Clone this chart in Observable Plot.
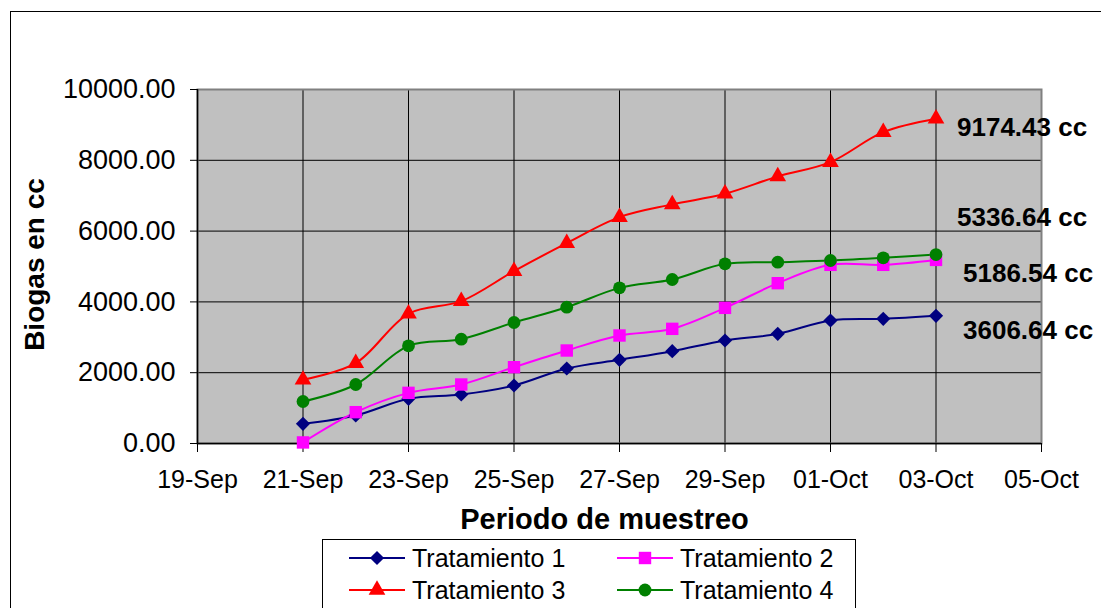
<!DOCTYPE html>
<html>
<head>
<meta charset="utf-8">
<script src="https://cdn.jsdelivr.net/npm/d3@7"></script>
<script src="https://cdn.jsdelivr.net/npm/@observablehq/plot@0.6"></script>
<style>
  body { margin: 0; background: #fff; font-family: "Liberation Sans", Arial, sans-serif; }
  #fig { position: relative; width: 1101px; height: 608px; overflow: hidden; background: #fff; }
  #border { position: absolute; left: 10px; top: 11px; width: 1200px; height: 700px; border: 1.5px solid #000; box-sizing: border-box; }
  #chart { position: absolute; left: 0; top: 0; }
  #legend { position: absolute; left: 322px; top: 539px; width: 534px; height: 120px; border: 1px solid #000; box-sizing: border-box; background: #fff; }
  .item { position: absolute; height: 26px; display: flex; align-items: center; font-size: 25px; color: #000; white-space: nowrap; }
  .item svg { margin-right: 7px; }
</style>
</head>
<body>
<div id="fig">
  <div id="border"></div>
  <div id="chart"></div>
  <div id="legend"></div>
</div>
<script>
// Sampling dates (daily) and cumulative biogas volume (cc) per treatment
const dates = ["2008-09-21", "2008-09-22", "2008-09-23", "2008-09-24", "2008-09-25", "2008-09-26", "2008-09-27",
               "2008-09-28", "2008-09-29", "2008-09-30", "2008-10-01", "2008-10-02", "2008-10-03"];
const tratamiento1 = [556, 791, 1262, 1384, 1638, 2119, 2363, 2608, 2910, 3098, 3475, 3521, 3606.64];
const tratamiento2 = [30, 885, 1431, 1667, 2156, 2627, 3051, 3239, 3832, 4529, 5047, 5047, 5186.54];
const tratamiento3 = [1800, 2270, 3665, 4020, 4870, 5660, 6395, 6755, 7055, 7545, 7950, 8795, 9174.43];
const tratamiento4 = [1186, 1667, 2759, 2947, 3418, 3851, 4397, 4633, 5076, 5122, 5169, 5245, 5336.64];
const seriesNames = ["Tratamiento 1", "Tratamiento 2", "Tratamiento 3", "Tratamiento 4"];

// Axis ticks
const xTickDates = ["2008-09-19", "2008-09-21", "2008-09-23", "2008-09-25", "2008-09-27",
                    "2008-09-29", "2008-10-01", "2008-10-03", "2008-10-05"];
const yTicks = [0, 2000, 4000, 6000, 8000, 10000];

const parse = d3.utcParse("%Y-%m-%d");
const fmtDate = d3.utcFormat("%d-%b");
const xTicks = xTickDates.map(parse);

const values = [tratamiento1, tratamiento2, tratamiento3, tratamiento4];
const styles = [
  {color: "#000080", symbol: "diamond2", r: 6.4},
  {color: "#ff00ff", symbol: "square", r: 7},
  {color: "#ff0000", symbol: "triangle", r: 6.2},
  {color: "#008000", symbol: "circle", r: 6.4}
];
// End-of-series label placement (pixels from the last point)
const labelShift = [{dx: 27, dy: 15}, {dx: 27, dy: 14}, {dx: 21, dy: 9}, {dx: 21, dy: -37}];

const series = seriesNames.map((name, i) =>
  dates.map((d, j) => ({serie: name, date: parse(d), value: values[i][j]})));

const font = "'Liberation Sans', Arial, sans-serif";

const marks = [
  Plot.frame({fill: "#c0c0c0"}),
  Plot.gridX(xTicks, {stroke: "#000", strokeOpacity: 1, strokeWidth: 1}),
  Plot.gridY(yTicks, {stroke: "#000", strokeOpacity: 1, strokeWidth: 1}),
  Plot.frame({stroke: "#808080", strokeWidth: 2}),
  Plot.ruleX([xTicks[0]], {stroke: "#000", strokeWidth: 1.5}),
  Plot.ruleY([0], {stroke: "#000", strokeWidth: 1.5}),
  Plot.axisX(xTicks, {tickFormat: fmtDate, tickSize: 9, tickPadding: 18, fontSize: 25, label: null, stroke: "#000"}),
  Plot.axisY(yTicks, {tickFormat: d => d.toFixed(2), tickSize: 7, tickPadding: 15, fontSize: 27, label: null, stroke: "#000"})
];

series.forEach((rows, i) => {
  const s = styles[i];
  marks.push(Plot.line(rows, {x: "date", y: "value", stroke: s.color, strokeWidth: 2, curve: "catmull-rom"}));
});
series.forEach((rows, i) => {
  const s = styles[i];
  marks.push(Plot.dot(rows, {x: "date", y: "value", symbol: () => s.symbol, r: s.r, fill: s.color, stroke: "none"}));
});
series.forEach((rows, i) => {
  const last = rows[rows.length - 1];
  marks.push(Plot.text([last], {
    x: "date", y: "value", text: d => `${d.value.toFixed(2)} cc`,
    textAnchor: "start", dx: labelShift[i].dx, dy: labelShift[i].dy,
    fontWeight: "bold", fontSize: 26, fill: "#000"
  }));
});

// Axis titles
marks.push(Plot.text(["Periodo de muestreo"], {
  frameAnchor: "bottom", textAnchor: "middle", lineAnchor: "middle",
  dx: -15, dy: 76, fontWeight: "bold", fontSize: 29, fill: "#000"
}));
marks.push(Plot.text(["Biogas en cc"], {
  frameAnchor: "left", textAnchor: "middle", lineAnchor: "middle", rotate: -90,
  dx: -162, dy: -2, fontWeight: "bold", fontSize: 28, fill: "#000"
}));

const chart = Plot.plot({
  width: 1101,
  height: 608,
  marginLeft: 197,
  marginRight: 60,
  marginTop: 89,
  marginBottom: 165,
  style: {fontFamily: font, background: "transparent", color: "#000", overflow: "visible"},
  x: {type: "utc", domain: [xTicks[0], xTicks[xTicks.length - 1]]},
  y: {domain: [0, 10000]},
  symbol: {type: "identity"},
  marks
});
document.getElementById("chart").appendChild(chart);

// Legend: two columns, two rows
const legend = d3.select("#legend");
const positions = [
  {left: 26, top: 5}, {left: 294, top: 5},
  {left: 26, top: 37}, {left: 294, top: 37}
];
seriesNames.forEach((name, i) => {
  const s = styles[i];
  const item = legend.append("div").attr("class", "item")
    .style("left", positions[i].left + "px").style("top", positions[i].top + "px");
  const svg = item.append("svg").attr("width", 56).attr("height", 20);
  svg.append("line").attr("x1", 0).attr("x2", 56).attr("y1", 10).attr("y2", 10)
    .attr("stroke", s.color).attr("stroke-width", 2);
  const sym = {diamond2: d3.symbolDiamond2, square: d3.symbolSquare, triangle: d3.symbolTriangle, circle: d3.symbolCircle}[s.symbol];
  svg.append("path").attr("transform", "translate(28,10)")
    .attr("d", d3.symbol(sym, Math.PI * s.r * s.r)())
    .attr("fill", s.color);
  item.append("span").text(name);
});
</script>
</body>
</html>
